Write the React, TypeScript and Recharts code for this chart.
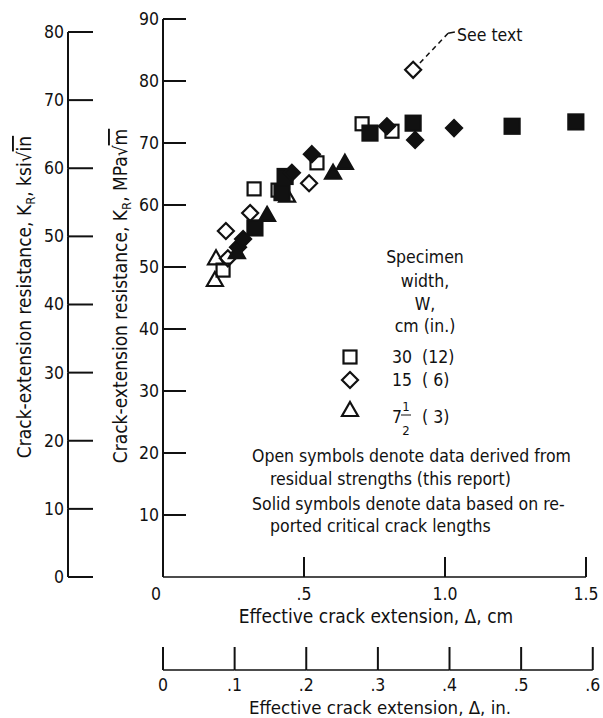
// 균열 저항 곡선 (K_R vs 유효 균열 진전량) 차트

import React from "react";
import {
  Customized,
  ReferenceLine,
  Scatter,
  ScatterChart,
  XAxis,
  YAxis,
} from "recharts";

// 데이터: x = 유효 균열 진전량 (cm), y = K_R (MPa√m)
// 폭 30 cm (12 in.)
const openSquareX = [0.213, 0.323, 0.408, 0.546, 0.706, 0.812];
const openSquareY = [49.5, 62.6, 62.4, 66.8, 73.1, 71.9];
const solidSquareX = [0.326, 0.422, 0.433, 0.734, 0.887, 1.238, 1.464];
const solidSquareY = [56.3, 62.0, 64.6, 71.6, 73.2, 72.7, 73.4];
// 폭 15 cm (6 in.)
const openDiamondX = [0.223, 0.23, 0.309, 0.518, 0.887];
const openDiamondY = [55.8, 51.4, 58.7, 63.5, 81.8];
const solidDiamondX = [0.266, 0.284, 0.457, 0.528, 0.794, 0.894, 1.032];
const solidDiamondY = [53.2, 54.5, 65.2, 68.2, 72.7, 70.5, 72.4];
// 폭 7.5 cm (3 in.)
const openTriangleX = [0.184, 0.188, 0.44];
const openTriangleY = [47.9, 51.4, 61.5];
const solidTriangleX = [0.262, 0.369, 0.603, 0.645];
const solidTriangleY = [52.4, 58.4, 65.2, 66.8];

// 축 눈금
const cmTicks = [0, 0.5, 1.0, 1.5];
const cmTickLabels = ["0", ".5", "1.0", "1.5"];
const inTicks = [0, 0.1, 0.2, 0.3, 0.4, 0.5, 0.6];
const inTickLabels = ["0", ".1", ".2", ".3", ".4", ".5", ".6"];
const mpaTicks = [0, 10, 20, 30, 40, 50, 60, 70, 80, 90];
const ksiTicks = [0, 10, 20, 30, 40, 50, 60, 70, 80];

// 범례 (시편 폭)
const legendKinds = ["square", "diamond", "triangle"];
const legendWidthCm = ["30", "15", "7"];
const legendWidthIn = ["(12)", "(\u00a06)", "(\u00a03)"];

// 주석 문구
const noteLines = [
  "Open symbols denote data derived from",
  "residual strengths (this report)",
  "Solid symbols denote data based on re-",
  "ported critical crack lengths",
];

// 단위 환산
const CM_MAX = 1.5;
const IN_MAX = CM_MAX / 2.54;
const MPA_MAX = 90;
const KSI_MAX = MPA_MAX / 1.0988;

// 레이아웃
const W = 603;
const H = 718;
const MARGIN = { top: 19, right: 17, bottom: 0, left: 0 };
const KSI_W = 68;
const MPA_W = 95;
const CM_H = 93;
const IN_H = 48;
const PLOT_W = W - MARGIN.left - MARGIN.right - KSI_W - MPA_W;
const PLOT_H = H - MARGIN.top - MARGIN.bottom - CM_H - IN_H;

// 축 id (정렬 순서상 앞쪽이 플롯에 가까움)
const X_MAIN = "primary";
const X_INCH = "secondary";
const Y_MAIN = "primary";
const Y_KSI = "secondary";

const FONT = "'DejaVu Sans Condensed', 'DejaVu Sans', sans-serif";
const INK = "#111";
const TICK_FS = 17.5;
const TITLE_FS = 19;
const NOTE_FS = 17.5;

const toPoints = (xs: number[], ys: number[]) =>
  xs.map((x, i) => ({ x, y: ys[i] }));

// 기호 그리기
const drawMark = (kind: string, filled: boolean, cx: number, cy: number) => {
  const fill = filled ? INK : "none";
  if (kind === "square") {
    const s = filled ? 15 : 13;
    return (
      <rect
        x={cx - s / 2}
        y={cy - s / 2}
        width={s}
        height={s}
        fill={fill}
        stroke={INK}
        strokeWidth={2.2}
      />
    );
  }
  if (kind === "diamond") {
    const r = 8;
    return (
      <polygon
        points={`${cx},${cy - r} ${cx + r},${cy} ${cx},${cy + r} ${cx - r},${cy}`}
        fill={fill}
        stroke={INK}
        strokeWidth={2.2}
      />
    );
  }
  return (
    <polygon
      points={`${cx},${cy - 8} ${cx + 8},${cy + 6} ${cx - 8},${cy + 6}`}
      fill={fill}
      stroke={INK}
      strokeWidth={2.2}
    />
  );
};

const markShape = (kind: string, filled: boolean) => (props: any) =>
  drawMark(kind, filled, props.cx, props.cy);

// 아래쪽 cm 축 눈금 (안쪽 위로)
const CmTick = (props: any) => {
  const { x, y, payload } = props;
  const v = payload.value;
  const i = cmTicks.indexOf(v);
  return (
    <g>
      {v !== 0 && (
        <line x1={x} y1={y} x2={x} y2={y - 20} stroke={INK} strokeWidth={2} />
      )}
      <text
        x={x + (v === 0 ? -7 : 0)}
        y={y + 23}
        textAnchor="middle"
        fontFamily={FONT}
        fontSize={TICK_FS}
        fill={INK}
      >
        {cmTickLabels[i]}
      </text>
    </g>
  );
};

// 인치 축 눈금 + 축선 구간
const InTick = (props: any) => {
  const { x, y, payload } = props;
  const v = payload.value;
  const i = inTicks.indexOf(v);
  const step = (0.1 * PLOT_W) / IN_MAX;
  return (
    <g>
      <line x1={x} y1={y} x2={x} y2={y - 23} stroke={INK} strokeWidth={2} />
      {i < inTicks.length - 1 && (
        <line x1={x} y1={y} x2={x + step} y2={y} stroke={INK} strokeWidth={1.5} />
      )}
      <text
        x={x}
        y={y + 21}
        textAnchor="middle"
        fontFamily={FONT}
        fontSize={TICK_FS}
        fill={INK}
      >
        {inTickLabels[i]}
      </text>
    </g>
  );
};

// MPa√m 축 눈금
const MpaTick = (props: any) => {
  const { x, y, payload } = props;
  const v = payload.value;
  if (v === 0) return <g />;
  return (
    <g>
      <line x1={x} y1={y} x2={x + 23} y2={y} stroke={INK} strokeWidth={2} />
      <text
        x={x - 4}
        y={y + 6}
        textAnchor="end"
        fontFamily={FONT}
        fontSize={TICK_FS}
        fill={INK}
      >
        {v}
      </text>
    </g>
  );
};

// ksi√in 축 눈금 + 축선 구간 (80까지만)
const KsiTick = (props: any) => {
  const { x, y, payload } = props;
  const v = payload.value;
  const step = (10 * PLOT_H) / KSI_MAX;
  return (
    <g>
      <line x1={x} y1={y} x2={x + 25} y2={y} stroke={INK} strokeWidth={2} />
      {v < 80 && (
        <line x1={x} y1={y} x2={x} y2={y - step} stroke={INK} strokeWidth={2} />
      )}
      <text
        x={x - 4}
        y={y + 6}
        textAnchor="end"
        fontFamily={FONT}
        fontSize={TICK_FS}
        fill={INK}
      >
        {v}
      </text>
    </g>
  );
};

// 축 제목, 범례, 주석
const Annotations = () => (
  <g fontFamily={FONT} fill={INK} fontSize={NOTE_FS}>
    <text
      x={31}
      y={297}
      transform="rotate(-90 31 297)"
      textAnchor="middle"
      fontSize={TITLE_FS}
    >
      Crack-extension resistance, K
      <tspan fontSize={13} dy={4}>
        R
      </tspan>
      <tspan dy={-4}>, ksi√</tspan>
      <tspan textDecoration="overline">in</tspan>
    </text>
    <text
      x={127}
      y={296}
      transform="rotate(-90 127 296)"
      textAnchor="middle"
      fontSize={TITLE_FS}
    >
      Crack-extension resistance, K
      <tspan fontSize={13} dy={4}>
        R
      </tspan>
      <tspan dy={-4}>, MPa√</tspan>
      <tspan textDecoration="overline">m</tspan>
    </text>

    <text x={376} y={623} textAnchor="middle" fontSize={TITLE_FS}>
      Effective crack extension, Δ, cm
    </text>
    <text x={380} y={714} textAnchor="middle" fontSize={18.5}>
      Effective crack extension, Δ, in.
    </text>

    <text x={457} y={41}>See text</text>

    <text x={425} y={263} textAnchor="middle">Specimen</text>
    <text x={425} y={287} textAnchor="middle">width,</text>
    <text x={425} y={310} textAnchor="middle">W,</text>
    <text x={425} y={332} textAnchor="middle">cm (in.)</text>

    {legendKinds.map((k, i) => {
      const cy = [357, 380, 410][i];
      return (
        <g key={k}>
          {drawMark(k, false, 350, cy)}
          <text x={392} y={cy + (i === 2 ? 13 : 6)}>
            {legendWidthCm[i]}
          </text>
          <text x={422} y={cy + (i === 2 ? 13 : 6)}>
            {legendWidthIn[i]}
          </text>
        </g>
      );
    })}
    <text x={406} y={411} textAnchor="middle" fontSize={13}>
      1
    </text>
    <line x1={401} y1={415} x2={411} y2={415} stroke={INK} strokeWidth={1} />
    <text x={406} y={435} textAnchor="middle" fontSize={13}>
      2
    </text>

    {noteLines.map((t, i) => (
      <text key={t} x={i % 2 === 0 ? 252 : 270} y={[462, 485, 510, 532][i]}>
        {t}
      </text>
    ))}
  </g>
);

export default function App() {
  return (
    <div
      style={{
        position: "absolute",
        left: 0,
        top: 0,
        width: W,
        height: H,
        background: "#fff",
      }}
    >
      <ScatterChart width={W} height={H} margin={MARGIN}>
        <XAxis
          xAxisId={X_MAIN}
          dataKey="x"
          type="number"
          domain={[0, CM_MAX]}
          ticks={cmTicks}
          interval={0}
          height={CM_H}
          tickSize={0}
          tickMargin={0}
          tickLine={false}
          axisLine={{ stroke: INK, strokeWidth: 1.5 }}
          tick={<CmTick />}
          allowDataOverflow
        />
        <XAxis
          xAxisId={X_INCH}
          dataKey="x"
          type="number"
          domain={[0, IN_MAX]}
          ticks={inTicks}
          interval={0}
          height={IN_H}
          tickSize={0}
          tickMargin={0}
          tickLine={false}
          axisLine={false}
          tick={<InTick />}
          allowDataOverflow
        />
        <YAxis
          yAxisId={Y_MAIN}
          dataKey="y"
          type="number"
          domain={[0, MPA_MAX]}
          ticks={mpaTicks}
          interval={0}
          width={MPA_W}
          tickSize={0}
          tickMargin={0}
          tickLine={false}
          axisLine={{ stroke: INK, strokeWidth: 2 }}
          tick={<MpaTick />}
          allowDataOverflow
        />
        <YAxis
          yAxisId={Y_KSI}
          dataKey="y"
          type="number"
          domain={[0, KSI_MAX]}
          ticks={ksiTicks}
          interval={0}
          width={KSI_W}
          tickSize={0}
          tickMargin={0}
          tickLine={false}
          axisLine={false}
          tick={<KsiTick />}
          allowDataOverflow
        />

        {/* "See text" 지시선 */}
        <ReferenceLine
          xAxisId={X_MAIN}
          yAxisId={Y_MAIN}
          segment={[
            { x: 0.911, y: 82.9 },
            { x: 1.011, y: 87.7 },
          ]}
          stroke={INK}
          strokeWidth={1.5}
          strokeDasharray="5 4"
        />
        <ReferenceLine
          xAxisId={X_MAIN}
          yAxisId={Y_MAIN}
          segment={[
            { x: 1.011, y: 87.7 },
            { x: 1.035, y: 87.9 },
          ]}
          stroke={INK}
          strokeWidth={1.5}
        />

        <Scatter
          xAxisId={X_MAIN}
          yAxisId={Y_MAIN}
          data={toPoints(openSquareX, openSquareY)}
          shape={markShape("square", false)}
          isAnimationActive={false}
        />
        <Scatter
          xAxisId={X_MAIN}
          yAxisId={Y_MAIN}
          data={toPoints(openDiamondX, openDiamondY)}
          shape={markShape("diamond", false)}
          isAnimationActive={false}
        />
        <Scatter
          xAxisId={X_MAIN}
          yAxisId={Y_MAIN}
          data={toPoints(openTriangleX, openTriangleY)}
          shape={markShape("triangle", false)}
          isAnimationActive={false}
        />
        <Scatter
          xAxisId={X_MAIN}
          yAxisId={Y_MAIN}
          data={toPoints(solidSquareX, solidSquareY)}
          shape={markShape("square", true)}
          isAnimationActive={false}
        />
        <Scatter
          xAxisId={X_MAIN}
          yAxisId={Y_MAIN}
          data={toPoints(solidDiamondX, solidDiamondY)}
          shape={markShape("diamond", true)}
          isAnimationActive={false}
        />
        <Scatter
          xAxisId={X_MAIN}
          yAxisId={Y_MAIN}
          data={toPoints(solidTriangleX, solidTriangleY)}
          shape={markShape("triangle", true)}
          isAnimationActive={false}
        />

        <Customized component={<Annotations />} />
      </ScatterChart>
    </div>
  );
}
